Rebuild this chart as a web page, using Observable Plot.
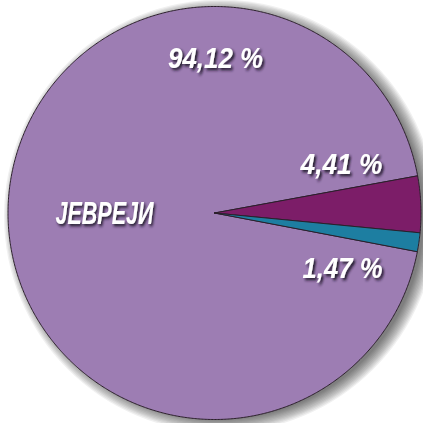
<!DOCTYPE html>
<html>
<head>
<meta charset="utf-8">
<script src="https://cdn.jsdelivr.net/npm/d3@7"></script>
<script src="https://cdn.jsdelivr.net/npm/@observablehq/plot@0.6"></script>
<style>
  html, body { margin: 0; padding: 0; background: #ffffff; }
  #chart { width: 423px; height: 423px; overflow: hidden; }
</style>
</head>
<body>
<div id="chart"></div>
<script>
// ---- data ----
const categories = ["ЈЕВРЕЈИ", "Категорија 2", "Категорија 3"];
const values = [94.12, 4.41, 1.47];
const valueLabels = ["94,12 %", "4,41 %", "1,47 %"];
const categoryLabel = "ЈЕВРЕЈИ";
const colors = ["#9d7db3", "#7c1d68", "#1d7ea1"];

// ---- geometry (pie layout via d3) ----
const W = 423, H = 423;
const cx = 214, cy = 212.5, R = 206.5;
const deg = Math.PI / 180;
const start = 100.8 * deg;
const pie = d3.pie().sort(null).startAngle(start).endAngle(start + 2 * Math.PI);
const arcs = pie(values);

const pts = [];
arcs.forEach((a, i) => {
  const key = categories[i];
  pts.push({key, x: 0, y: 0});
  const n = Math.max(4, Math.ceil((a.endAngle - a.startAngle) / (0.4 * deg)));
  for (let k = 0; k <= n; k++) {
    const t = a.startAngle + (a.endAngle - a.startAngle) * k / n;
    pts.push({key, x: Math.sin(t), y: Math.cos(t)});
  }
  pts.push({key, x: 0, y: 0});
});

// soft drop shadow: stacked translucent discs
const shadowLayers = d3.range(0, 11).map(k => ({x: 0, y: 0, r: R - 3 + k * 1.3}));

// label anchors (pixel positions converted to data units)
const px = (p) => (p - cx) / R, py = (p) => (cy - p) / R;
const labelRows = [
  {text: valueLabels[0], x: px(215), y: py(58), size: 29, w: 95},
  {text: categoryLabel, x: px(104), y: py(213.5), size: 32, w: 98},
  {text: valueLabels[1], x: px(341), y: py(164), size: 29, w: 82},
  {text: valueLabels[2], x: px(342), y: py(268), size: 29, w: 80}
];

const font = "'Liberation Sans', Arial, sans-serif";

const plot = Plot.plot({
  width: W,
  height: H,
  margin: 0,
  x: {domain: [px(0), px(W)], axis: null},
  y: {domain: [py(H), py(0)], axis: null},
  r: {type: "identity"},
  color: {domain: categories, range: colors},
  style: {background: "transparent", overflow: "hidden"},
  marks: [
    Plot.dot(shadowLayers, {x: "x", y: "y", r: "r", fill: "#000000", fillOpacity: 0.06, stroke: "none", dx: 6, dy: 3}),
    Plot.line(pts, {x: "x", y: "y", z: "key", fill: "key", stroke: "#2b1f2b", strokeWidth: 1, strokeLinejoin: "round"}),
    Plot.text(labelRows, {
      x: "x", y: "y", text: "text", fontSize: d => d.size,
      fontFamily: font, fontWeight: "bold", fontStyle: "italic",
      textAnchor: "middle", lineAnchor: "middle", fill: "#ffffff"
    })
  ]
});

document.getElementById("chart").appendChild(plot);

const svg = d3.select(plot);
const defs = svg.insert("defs", ":first-child");
const f = defs.append("filter").attr("id", "txtShadow")
  .attr("x", "-10%").attr("y", "-30%").attr("width", "130%").attr("height", "170%");
f.append("feDropShadow").attr("dx", 2.2).attr("dy", 2.2).attr("stdDeviation", 1.4)
  .attr("flood-color", "#1e1426").attr("flood-opacity", 0.95);

// condense the labels horizontally to the reference widths, add shadow
svg.selectAll("text").each(function (_, i) {
  const row = labelRows[i % labelRows.length];
  const len = this.getComputedTextLength();
  if (!len) return;
  const s = row.w / len;
  const tr = this.getAttribute("transform");
  if (tr) {
    this.setAttribute("transform", tr + ` scale(${s.toFixed(3)},1)`);
  } else {
    const ax = +this.getAttribute("x") || 0, ay = +this.getAttribute("y") || 0;
    this.setAttribute("transform", `translate(${ax},${ay}) scale(${s.toFixed(3)},1) translate(${-ax},${-ay})`);
  }
  this.setAttribute("filter", "url(#txtShadow)");
});
</script>
</body>
</html>
